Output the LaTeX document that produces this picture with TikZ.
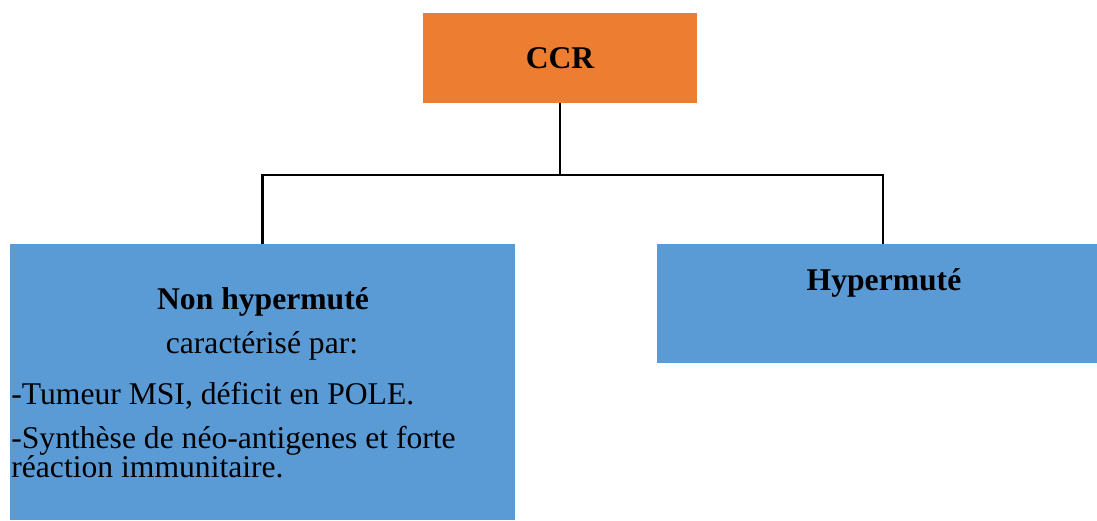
\documentclass[tikz,border=0pt]{standalone}
\usepackage{fontspec}
\setmainfont{Liberation Serif}
\usetikzlibrary{positioning}
\definecolor{ccrorange}{HTML}{ED7D31}
\definecolor{boxblue}{HTML}{5B9BD5}
\tikzset{%
ccrbox/.style={rectangle, fill=ccrorange, inner sep=0pt, minimum width=5.48cm, minimum height=1.8cm, font=\fontsize{18}{20}\selectfont\bfseries},
subbox/.style={rectangle, fill=boxblue, inner sep=0pt},
conn/.style={draw=black, line width=1.2pt},
txt/.style={inner sep=0pt, font=\fontsize{18}{20}\selectfont}
}

\begin{document}
\begin{tikzpicture}[x=0.02cm, y=-0.02cm]
		\useasboundingbox (0,0) rectangle (1097,520);
		\node[ccrbox] (ccr) at (560,58) {CCR};
		\node[subbox, minimum width=10.1cm, minimum height=5.52cm] (nonhyp) at (262.5,382) {};
		\node[subbox, minimum width=8.8cm, minimum height=2.38cm] (hyp) at (877,303.5) {};
		\coordinate (split) at (560,175);
		
		\draw[conn] (ccr.south) -- (split);
		\draw[conn] (split) -| (nonhyp.north);
		\draw[conn] (split) -| ([xshift=0.12cm]hyp.north);
		
		\node[txt, anchor=base] (nonhyptitle) at (263,309) {\bfseries Non hypermuté};
		\node[txt, anchor=base] (carac) at (262,353) {caractérisé par:};
		\node[txt, anchor=base west] (tumeur) at (11,404) {-Tumeur MSI, déficit en POLE.};
		\node[txt, anchor=base west] (synth) at (11,448) {-Synthèse de néo-antigenes et forte};
		\node[txt, anchor=base west] (reac) at (11,477) {réaction immunitaire.};
		\node[txt, anchor=base] (hyptitle) at (884,290) {\bfseries Hypermuté};
	\end{tikzpicture}
\end{document}
